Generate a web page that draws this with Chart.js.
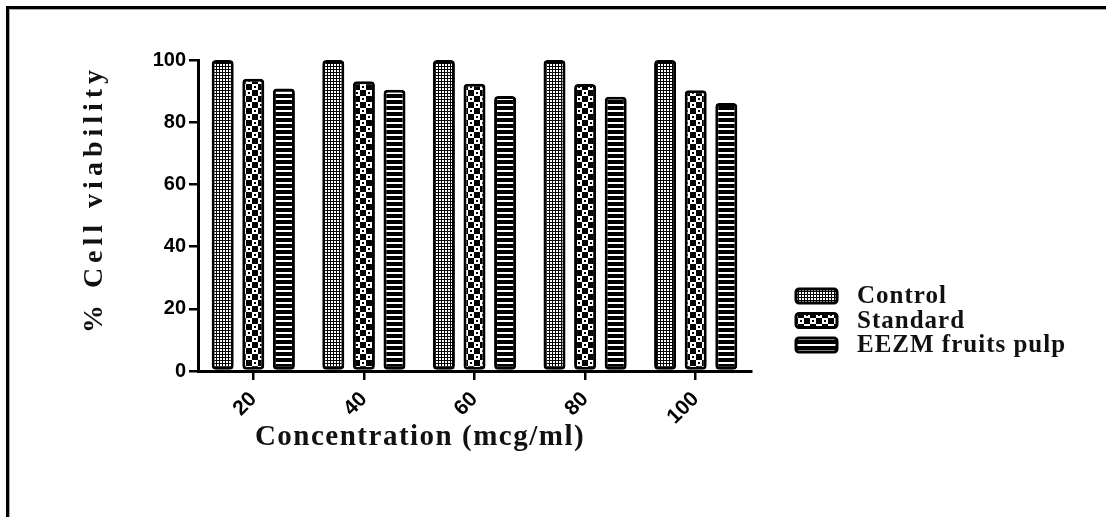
<!DOCTYPE html>
<html lang="en">
<head>
    <meta charset="UTF-8">
    <title>% Cell viability</title>
    <style>
        body {
            margin: 0;
            padding: 0;
            background-color: #fff;
            width: 1106px;
            height: 517px;
            overflow: hidden;
            position: relative;
        }

        .frame {
            position: absolute;
            left: 6px;
            top: 6px;
            right: 0;
            bottom: 0;
            border-top: 3px solid #000;
            border-left: 3px solid #000;
        }

        .frame-inner {
            position: absolute;
            left: 9px;
            top: 9px;
            right: 0;
            bottom: 0;
            border-top: 1px solid #aaa;
            border-left: 1px solid #aaa;
        }

        #chart {
            position: absolute;
            left: 0;
            top: 0;
            z-index: 1;
        }
    </style>
</head>
<body>
    <div class="frame"></div>
    <div class="frame-inner"></div>
    <canvas id="chart" width="1106" height="517"></canvas>

    <script src="https://cdn.jsdelivr.net/npm/chart.js"></script>
    <script>
        // Data
        const concentrations = ['20', '40', '60', '80', '100'];
        const control = [100, 100, 100, 100, 100];
        const standard = [94, 93.2, 92.4, 92.3, 90.3];
        const eezm = [90.8, 90.4, 88.4, 88.2, 86.2];
        const seriesNames = ['Control', 'Standard', 'EEZM fruits pulp'];
        const yTicks = [0, 20, 40, 60, 80, 100];

        const xTitle = 'Concentration (mcg/ml)';
        const yTitle = '% Cell viability';

        const canvas = document.getElementById('chart');
        const ctx = canvas.getContext('2d');

        // small tiles used as bar fills
        function makePattern(w, h, draw) {
            const tile = document.createElement('canvas');
            tile.width = w;
            tile.height = h;
            draw(tile.getContext('2d'));
            return ctx.createPattern(tile, 'repeat');
        }

        const finePattern = makePattern(6, 6, g => {
            g.fillStyle = '#000';
            g.fillRect(0, 0, 6, 6);
            g.fillStyle = '#fff';
            g.fillRect(1, 1, 2, 2);
            g.fillRect(4, 1, 2, 2);
            g.fillRect(1, 4, 2, 2);
            g.fillRect(4, 4, 2, 2);
        });

        const checkPattern = makePattern(12, 12, g => {
            g.fillStyle = '#000';
            g.fillRect(0, 0, 12, 12);
            g.fillStyle = '#fff';
            g.fillRect(0, 0, 6, 6);
            g.fillRect(6, 6, 6, 6);
            g.fillStyle = '#000';
            g.fillRect(2, 2, 2, 2);
            g.fillRect(8, 8, 2, 2);
        });

        const stripePattern = makePattern(6, 6, g => {
            g.fillStyle = '#000';
            g.fillRect(0, 0, 6, 6);
            g.fillStyle = '#fff';
            g.fillRect(0, 2, 6, 2);
        });

        // titles and legend drawn on top of the chart
        const decorations = {
            id: 'decorations',
            afterDraw(chart) {
                const c = chart.ctx;
                c.save();
                c.fillStyle = '#111';
                c.textAlign = 'center';
                c.textBaseline = 'middle';

                // y axis title
                c.save();
                c.font = 'bold 28px "Liberation Serif", "Times New Roman", serif';
                c.letterSpacing = '5px';
                c.translate(95, 199);
                c.rotate(-Math.PI / 2);
                c.fillText(yTitle, 0, 0);
                c.restore();

                // x axis title
                c.font = 'bold 29px "Liberation Serif", "Times New Roman", serif';
                c.letterSpacing = '1.5px';
                c.fillText(xTitle, 420, 438);

                // legend
                c.letterSpacing = '1px';
                c.textAlign = 'left';
                c.font = 'bold 25px "Liberation Serif", "Times New Roman", serif';
                chart.data.datasets.forEach((ds, i) => {
                    const rowY = 296 + i * 24.5;
                    c.beginPath();
                    c.roundRect(796, rowY - 7, 41, 14, 3);
                    c.fillStyle = ds.backgroundColor;
                    c.fill();
                    c.lineWidth = 3;
                    c.strokeStyle = '#000';
                    c.stroke();
                    c.fillStyle = '#111';
                    c.fillText(ds.label, 857, rowY + 1);
                });
                c.restore();
            }
        };

        const barStyle = {
            borderColor: '#000',
            borderWidth: 3,
            borderRadius: 4,
            borderSkipped: false,
            categoryPercentage: 0.83,
            barPercentage: 0.72
        };

        const tickFont = { family: '"Liberation Sans", Arial, sans-serif', weight: 'bold', size: 20 };

        new Chart(ctx, {
            type: 'bar',
            data: {
                labels: concentrations,
                datasets: [
                    { label: seriesNames[0], data: control, backgroundColor: finePattern, ...barStyle },
                    { label: seriesNames[1], data: standard, backgroundColor: checkPattern, ...barStyle },
                    { label: seriesNames[2], data: eezm, backgroundColor: stripePattern, ...barStyle }
                ]
            },
            options: {
                responsive: false,
                animation: false,
                clip: false,
                layout: { padding: { left: 85, top: 60, right: 355, bottom: 0 } },
                plugins: {
                    legend: { display: false },
                    tooltip: { enabled: false }
                },
                scales: {
                    x: {
                        grid: {
                            drawOnChartArea: false,
                            offset: false,
                            color: '#000',
                            lineWidth: 2.5,
                            tickLength: 9
                        },
                        border: { color: '#000', width: 3 },
                        ticks: {
                            color: '#000',
                            font: { ...tickFont, size: 21 },
                            minRotation: 45,
                            maxRotation: 45,
                            padding: 7
                        },
                        afterFit(scale) { scale.height = 146; }
                    },
                    y: {
                        min: 0,
                        max: 100,
                        afterBuildTicks(scale) {
                            scale.ticks = yTicks.map(v => ({ value: v }));
                        },
                        grid: {
                            drawOnChartArea: false,
                            color: '#000',
                            lineWidth: 2.5,
                            tickLength: 9
                        },
                        border: { color: '#000', width: 3 },
                        ticks: { color: '#000', font: tickFont, padding: 3 },
                        afterFit(scale) { scale.width = 113; }
                    }
                }
            },
            plugins: [decorations]
        });
    </script>
</body>
</html>
